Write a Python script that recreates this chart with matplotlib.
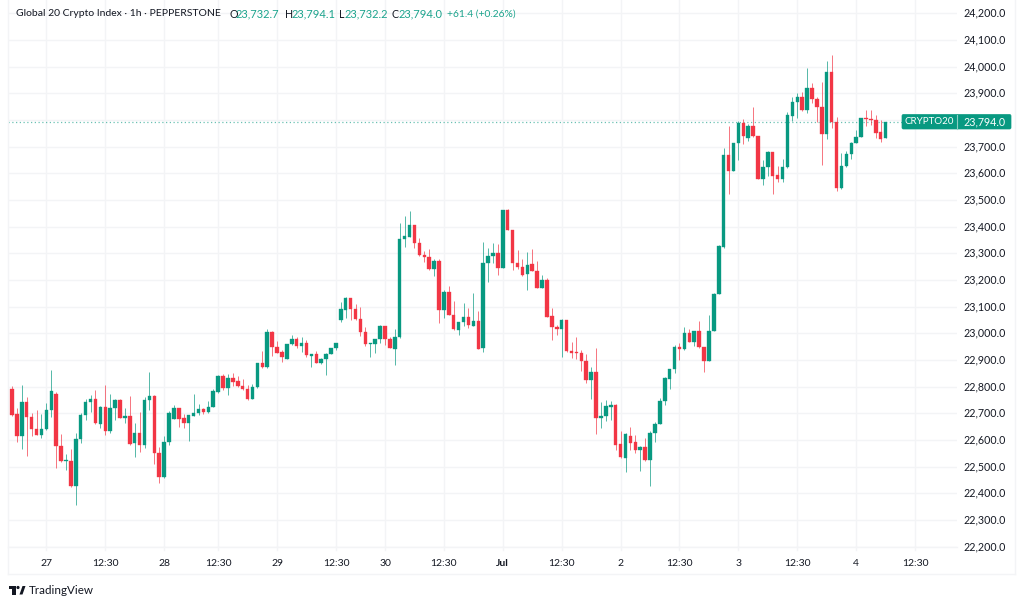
import matplotlib
matplotlib.use("Agg")
import matplotlib.pyplot as plt
from matplotlib.patches import Rectangle, FancyBboxPatch, Polygon

opens = [22791,22696,22614,22742,22687,22640,22620,22640,22714,22771,22577,22523,22523,22427,22603,22692,22744,22754,22661,22722,
 22635,22719,22751,22684,22691,22587,22627,22580,22749,22765,22552,22461,22594,22680,22719,22682,22665,22691,22700,22716,
 22705,22724,22781,22840,22796,22834,22820,22804,22791,22754,22797,22887,22872,23005,22949,22930,22905,22959,22979,22952,
 22962,22916,22922,22889,22904,22922,22944,23049,23089,23131,23091,23054,23006,22961,22961,22978,23028,22979,22942,22985,
 23352,23362,23405,23339,23294,23286,23241,23272,23089,23155,23070,23012,23041,23061,23029,23047,22945,23265,23290,23301,
 23245,23462,23387,23264,23250,23222,23259,23235,23171,23200,23064,23022,23017,23049,22934,22930,22926,22897,22826,22855,
 22681,22690,22724,22732,22584,22532,22615,22591,22562,22574,22524,22625,22661,22747,22830,22865,22949,22940,23002,22967,
 23009,22948,22896,23010,23147,23324,23669,23609,23714,23789,23733,23779,23740,23579,23624,23680,23594,23580,23622,23816,
 23866,23886,23836,23920,23879,23849,23746,23980,23794,23544,23626,23674,23715,23736,23807,23804,23799,23754,23732.7]
highs = [22801,22719,22807,22760,22700,22712,22697,22737,22862,22781,22622,22547,22565,22625,22700,22752,22767,22787,22726,22805,
 22771,22754,22754,22719,22766,22662,22705,22760,22854,22767,22572,22614,22710,22732,22719,22697,22694,22772,22735,22721,
 22746,22791,22842,22846,22846,22850,22840,22827,22806,22810,22890,22934,23015,23008,22970,22937,22960,22992,22985,22985,
 22974,22922,22932,22909,22925,22945,22965,23119,23136,23134,23110,23097,23024,22965,22979,23030,23029,22985,23018,23412,
 23441,23459,23406,23359,23310,23315,23277,23277,23162,23176,23121,23044,23112,23095,23150,23084,23344,23320,23337,23335,
 23464,23465,23387,23312,23277,23304,23316,23271,23217,23209,23094,23031,23052,23050,22966,22987,22936,22921,22874,22944,
 22741,22750,22747,22734,22634,22625,22649,22617,22576,22607,22635,22667,22759,22835,22867,22956,22962,23022,23016,23010,
 23047,22949,23067,23150,23330,23694,23778,23715,23797,23802,23786,23849,23740,23650,23682,23681,23627,23652,23831,23885,
 23901,23906,23995,23937,23887,23942,24020,24044,23810,23675,23682,23716,23762,23807,23837,23837,23819,23800,23794.1]
lows = [22690,22594,22566,22541,22616,22619,22609,22637,22687,22496,22519,22489,22425,22356,22590,22674,22706,22661,22644,22620,
 22627,22676,22682,22665,22580,22537,22556,22569,22711,22509,22439,22459,22582,22677,22647,22646,22596,22690,22694,22697,
 22701,22722,22777,22787,22769,22802,22800,22787,22750,22752,22796,22871,22871,22916,22925,22892,22904,22956,22946,22931,
 22911,22872,22887,22886,22845,22921,22936,23044,23059,23050,23051,22990,22951,22912,22925,22965,22956,22945,22881,22984,
 23325,23361,23321,23290,23269,23239,23215,23040,23057,23067,23012,22995,23027,23019,23027,22941,22930,23194,23264,23220,
 23244,23386,23239,23241,23216,23164,23234,23170,23169,23061,22975,22994,22910,22929,22906,22902,22859,22812,22754,22621,
 22646,22672,22676,22564,22534,22481,22562,22550,22484,22522,22429,22592,22660,22732,22790,22850,22900,22939,22966,22952,
 22945,22856,22895,23009,23146,23320,23524,23607,23650,23710,23722,23737,23577,23557,23591,23524,23567,23566,23621,23796,
 23809,23835,23825,23862,23794,23630,23730,23770,23535,23542,23624,23655,23714,23735,23776,23782,23734,23716,23732.2]
closes = [22695,22614,22742,22687,22641,22620,22641,22714,22782,22577,22521,22525,22427,22604,22692,22744,22754,22662,22724,22635,
 22719,22750,22684,22690,22586,22627,22580,22750,22765,22552,22461,22594,22700,22719,22680,22665,22692,22700,22715,22706,
 22724,22782,22840,22796,22834,22817,22804,22791,22754,22799,22887,22872,23005,22949,22927,22911,22959,22979,22952,22962,
 22919,22921,22889,22904,22922,22944,22964,23090,23134,23091,23052,23006,22961,22964,22978,23028,22978,22946,22985,23354,
 23364,23405,23339,23292,23286,23240,23272,23089,23156,23069,23015,23042,23061,23030,23047,22942,23265,23290,23301,23245,
 23462,23387,23262,23247,23220,23256,23235,23171,23200,23062,23024,23017,23049,22932,22927,22927,22897,22826,22855,22681,
 22691,22726,22731,22581,22535,22622,22590,22562,22574,22524,22625,22661,22747,22831,22865,22949,22940,23002,22967,23009,
 22948,22895,23010,23147,23327,23669,23609,23714,23790,23739,23778,23739,23579,23624,23680,23591,23580,23622,23817,23867,
 23886,23836,23920,23879,23849,23746,23980,23794,23544,23626,23674,23715,23736,23806,23804,23799,23752,23729,23794]

price_ticks = [22200 + 100*i for i in range(21)]
time_labels = ["27","12:30","28","12:30","29","12:30","30","12:30","Jul","12:30","2","12:30","3","12:30","4","12:30"]
time_index  = [7,19,31,42,54,66,76,88,100,112,124,136,148,160,172,184]
bold_labels = ["Jul"]
legend_title = "Global 20 Crypto Index · 1h · PEPPERSTONE"
legend_keys = ["O","H","L","C"]
legend_values = ["23,732.7","23,794.1","23,732.2","23,794.0"]
legend_change = "+61.4 (+0.26%)"
last_price = 23794.0

GREEN, RED = "#089981", "#F23645"
GRID, TXT = "#F3F4F6", "#131722"
FONT = "Lato"
W, H = 1024, 606

def ax_from_px(l, t, r, b):
    return fig.add_axes([l/W, 1-b/H, (r-l)/W, (b-t)/H])

fig = plt.figure(figsize=(W/100, H/100), dpi=100, facecolor="white")
plt.rcParams["font.family"] = [FONT, "DejaVu Sans"]

L, R, T, B = 8, 957, 0, 547
ax = ax_from_px(L, T, R, B)
ax.set_xlim((L-12)/4.908, (R-12)/4.908)
ax.set_ylim(22800-(B-386.67)/0.26667, 22800+(386.67-T)/0.26667)
ax.set_facecolor("white")
for s in ax.spines.values():
    s.set_visible(False)
ax.tick_params(length=0, labelleft=False, labelbottom=False, left=False, bottom=False)
for p in price_ticks:
    ax.axhline(p, color=GRID, lw=1, zorder=0)
for i in time_index:
    ax.axvline(i, color=GRID, lw=1, zorder=0)

bw = 3.5/4.908
for i, (o, h, l, c) in enumerate(zip(opens, highs, lows, closes)):
    col = GREEN if c >= o else RED
    ax.plot([i, i], [l, h], color=col, lw=0.6, alpha=0.8, zorder=2, solid_capstyle="butt")
    ax.add_patch(Rectangle((i-bw/2, min(o, c)), bw, max(abs(c-o), 3), fc=col, ec=col, lw=0.25, zorder=3))

ax.axhline(last_price, color=GREEN, lw=0.9, ls=(0, (1, 2)), alpha=0.6, zorder=1)

ov = fig.add_axes([0, 0, 1, 1], facecolor="none")
ov.set_xlim(0, W); ov.set_ylim(H, 0); ov.axis("off")
ov.plot([8, 8], [0, 574], color=GRID, lw=1)
ov.plot([8, 1015], [574, 574], color=GRID, lw=1)
ov.plot([8, 957], [547, 547], color=GRID, lw=1)
ov.plot([1015, 1015], [0, 574], color=GRID, lw=1)

for p in price_ticks:
    y = 386.67 + (22800-p)*0.26667
    ov.text(1006, y, f"{p:,.1f}", ha="right", va="center", fontsize=7.7, color=TXT)

for i, s in zip(time_index, time_labels):
    x = 12 + 4.908*i
    ov.plot([x, x], [547, 549.5], color=GRID, lw=1)
    ov.text(x, 563, s, ha="center", va="center", fontsize=7.5, color=TXT,
            fontweight="bold" if s in bold_labels else "normal")

ov.add_patch(FancyBboxPatch((902, 114.5), 109, 14.5, boxstyle="round,pad=0,rounding_size=1.5", fc=GREEN, ec=GREEN, lw=0.5, zorder=5))
ov.plot([957, 957], [114.5, 129], color="#8CCFC2", lw=0.8, zorder=6)
ov.text(929, 122, "CRYPTO20", ha="center", va="center", fontsize=7.0, color="white", zorder=6)
ov.text(1006, 122, "23,794.0", ha="right", va="center", fontsize=7.7, color="white", zorder=6)

ov.text(16, 14, legend_title, ha="left", va="center", fontsize=7.45, color=TXT)
key_x = [229, 285, 339, 392]
val_x = [236, 292, 344.5, 399]
for kx, vx, k, v in zip(key_x, val_x, legend_keys, legend_values):
    ov.text(kx, 14, k, ha="left", va="center", fontsize=7.7, color=TXT)
    ov.text(vx, 14, v, ha="left", va="center", fontsize=8.05, color="#1AA38C")
ov.text(447, 14, legend_change, ha="left", va="center", fontsize=7.4, color="#1AA38C")

ov.add_patch(Rectangle((9, 586), 6.5, 3, fc=TXT, ec="none"))
ov.add_patch(Rectangle((12, 586), 3.5, 8.5, fc=TXT, ec="none"))
ov.add_patch(Polygon([(19.5, 594.5), (22.5, 586), (25.5, 586), (22.5, 594.5)], fc=TXT, ec="none"))
ov.add_patch(plt.Circle((18, 587.5), 1.6, fc=TXT, ec="none"))
ov.text(29, 590.5, "TradingView", ha="left", va="center", fontsize=8.4, color=TXT)

fig.savefig("out.png", dpi=100, facecolor="white")
